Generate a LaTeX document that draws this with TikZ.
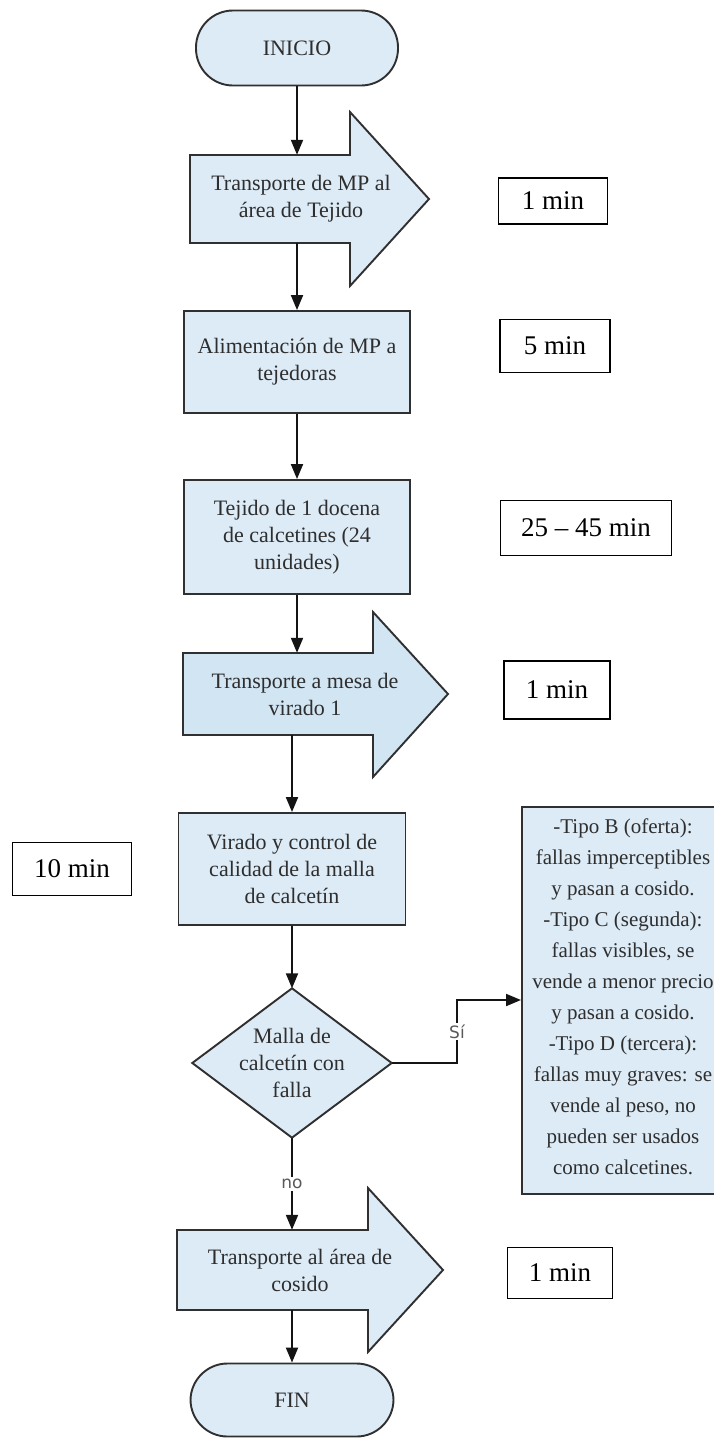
\documentclass[tikz,border=0pt]{standalone}
\usepackage{fontspec}
\setmainfont{Liberation Serif}
\newfontfamily\lblfont{DejaVu Sans}
\usetikzlibrary{arrows.meta,backgrounds}

\definecolor{boxfill}{HTML}{DDEBF6}
\definecolor{darkfill}{HTML}{D2E5F3}
\definecolor{edge}{HTML}{303030}
\definecolor{ink}{HTML}{2E2E2E}

\tikzset{
  shapetext/.style={font=\fontsize{22}{27}\selectfont, text=ink, align=center, inner sep=0pt},
  shapeline/.style={draw=edge, line width=1.9pt, line join=miter},
  procbox/.style={shapetext, shapeline, fill=boxfill},
  term/.style={procbox, rounded corners=37pt},
  timebox/.style={draw=black, line width=1.6pt, fill=white, text=black,
                  font=\fontsize{27}{30}\selectfont, inner sep=0pt},
  notebox/.style={shapeline, fill=boxfill, text=ink, align=center, inner sep=0pt,
                  font=\fontsize{21}{31}\selectfont},
  conn/.style={line width=2pt, draw=black!92, -{Triangle[length=15pt,width=12pt]}},
  lbl/.style={font=\lblfont\fontsize{17}{20}\selectfont, text=black!65, fill=white, inner sep=2pt}
}

\begin{document}
\begin{tikzpicture}[x=1pt,y=-1pt]
\useasboundingbox (0,0) rectangle (714,1438);
\clip (0,0) rectangle (714,1438);

% terminals
\node[term, minimum width=202, minimum height=75] (ini) at (297,48) {INICIO};
\node[term, minimum width=203, minimum height=73] (fin) at (292,1400) {FIN};

% transport arrows (outline drawn as block arrows, text as named nodes)
\draw[shapeline, fill=boxfill] (190,155) -- (350,155) -- (350,112) -- (429,199)
  -- (350,286) -- (350,243) -- (190,243) -- cycle;
\node[shapetext, minimum height=88] (t1) at (301,199) {Transporte de MP al\\área de Tejido};

\draw[shapeline, fill=darkfill] (183,653) -- (373,653) -- (373,612) -- (448,694)
  -- (373,777) -- (373,735) -- (183,735) -- cycle;
\node[shapetext, minimum height=82] (t2) at (305,694) {Transporte a mesa de\\virado 1};

\draw[shapeline, fill=boxfill] (177,1230) -- (368,1230) -- (368,1188) -- (443,1270)
  -- (368,1352) -- (368,1310) -- (177,1310) -- cycle;
\node[shapetext, minimum height=80] (t3) at (300,1270) {Transporte al área de\\cosido};

% process boxes
\node[procbox, minimum width=226, minimum height=102] (b2) at (297,362)
  {Alimentación de MP a\\tejedoras};
\node[procbox, minimum width=226, minimum height=114] (b3) at (297,537)
  {Tejido de 1 docena\\de calcetines (24\\unidades)};
\node[procbox, minimum width=227, minimum height=112] (b4) at (292,869)
  {Virado y control de\\calidad de la malla\\de calcetín};

% decision
\node[shapetext, minimum width=199, minimum height=149] (d) at (292,1063)
  {Malla de\\calcetín con\\falla};
\begin{scope}[on background layer]
  \draw[shapeline, fill=boxfill] (d.north) -- (d.east) -- (d.south) -- (d.west) -- cycle;
\end{scope}

% defect classes (the box runs past the right edge of the page)
\node[notebox, minimum width=260, minimum height=387, anchor=west] (note) at (521,1000.5) {};
\node[notebox, draw=none, fill=none] (notetext) at (623,997)
  {-Tipo B (oferta):\\fallas imperceptibles\\y pasan a cosido.\\-Tipo C (segunda):\\fallas visibles, se\\vende a menor precio\\y pasan a cosido.\\-Tipo D (tercera):\\fallas muy graves: se\\vende al peso, no\\pueden ser usados\\como calcetines.};

% times
\node[timebox, minimum width=109, minimum height=46] (m1) at (553,201) {1 min};
\node[timebox, minimum width=110, minimum height=53] (m2) at (555,346) {5 min};
\node[timebox, minimum width=171, minimum height=55] (m3) at (586,528) {25 – 45 min};
\node[timebox, minimum width=106, minimum height=58] (m4) at (557,690) {1 min};
\node[timebox, minimum width=119, minimum height=53] (m5) at (72,869) {10 min};
\node[timebox, minimum width=105, minimum height=51] (m6) at (560,1273) {1 min};

% connectors
\draw[conn] (ini.south) -- (ini.south |- t1.north);
\draw[conn] (t1.south -| b2.north) -- (b2.north);
\draw[conn] (b2.south) -- (b3.north);
\draw[conn] (b3.south) -- (b3.south |- t2.north);
\draw[conn] (t2.south -| b4.north) -- (b4.north);
\draw[conn] (b4.south) -- (d.north);
\coordinate (sibend) at (457,1000);
\draw[conn] (d.east) -| node[lbl, pos=0.75] {Sí} (sibend) -- (sibend -| note.west);
\draw[conn] (d.south) -- node[lbl] {no} (d.south |- t3.north);
\draw[conn] (fin.north |- t3.south) -- (fin.north);
\end{tikzpicture}
\end{document}
